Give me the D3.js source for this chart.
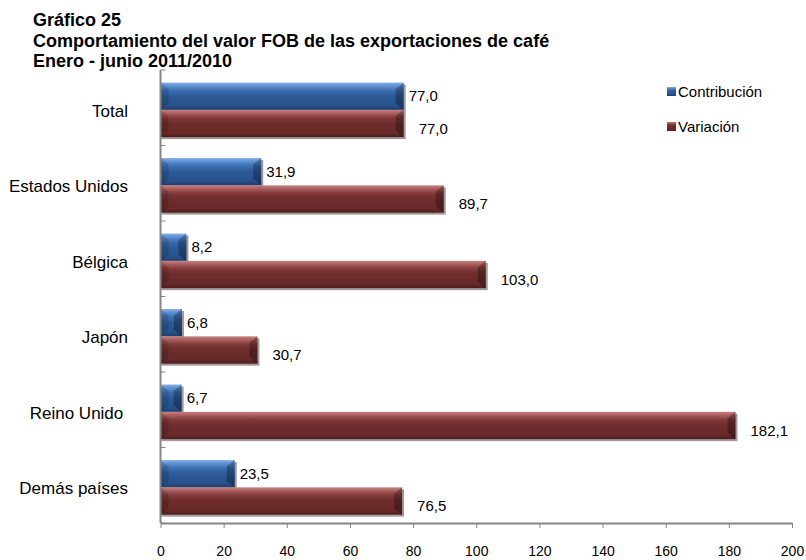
<!DOCTYPE html>
<html>
<head>
<meta charset="utf-8">
<script src="https://cdn.jsdelivr.net/npm/d3@7"></script>
<style>
  body { margin: 0; background: #fff; }
  text { font-family: Arial, "Liberation Sans", sans-serif; fill: #000; }
</style>
</head>
<body>
<svg id="chart" width="806" height="560"></svg>
<script>
const categories = ['Total', 'Estados Unidos', 'Bélgica', 'Japón', 'Reino Unido ', 'Demás países'];
const series = ['Contribución', 'Variación'];
const contribucion = [77.0, 31.9, 8.2, 6.8, 6.7, 23.5];
const variacion = [77.0, 89.7, 103.0, 30.7, 182.1, 76.5];
const xTicks = [0, 20, 40, 60, 80, 100, 120, 140, 160, 180, 200];
const titleLines = ['Gráfico 25', 'Comportamiento del valor FOB de las exportaciones de café', 'Enero - junio 2011/2010'];

const rows = categories.map((c, i) => ({ cat: c, values: [contribucion[i], variacion[i]] }));

const svg = d3.select('#chart');
const es = d3.formatLocale({ decimal: ',', thousands: '.', grouping: [3], currency: ['', ''] });
const fmt = es.format('.1f');

const x = d3.scaleLinear().domain([0, 200]).range([160.5, 792]);
const y0 = d3.scaleBand().domain(categories).range([70, 523]);
const y1 = d3.scaleBand().domain(series).range([0, y0.bandwidth()])
    .paddingInner(0).paddingOuter(0.383).align(0.6);

// gradients for the beveled bars
const defs = svg.append('defs');
const grads = {
  'Contribución': [['0', '#86b0e6'], ['0.12', '#5f92d4'], ['0.3', '#3b6db0'], ['0.5', '#2c5b98'], ['0.85', '#27518a'], ['1', '#1c3d6c']],
  'Variación': [['0', '#c78282'], ['0.12', '#ab5f5f'], ['0.3', '#813838'], ['0.5', '#6f2c2c'], ['0.85', '#682929'], ['1', '#4e1c1c']]
};
series.forEach((s, i) => {
  const g = defs.append('linearGradient').attr('id', 'grad' + i)
      .attr('x1', 0).attr('y1', 0).attr('x2', 0).attr('y2', 1);
  grads[s].forEach(st => g.append('stop').attr('offset', st[0]).attr('stop-color', st[1]));
});

// title
svg.append('g').selectAll('text').data(titleLines).join('text')
    .attr('x', 33)
    .attr('y', (d, i) => 26 + i * 20.5)
    .style('font-weight', 'bold')
    .style('font-size', '18px')
    .text(d => d);

// bars
const groups = svg.append('g').selectAll('g').data(rows).join('g')
    .attr('transform', d => `translate(0,${y0(d.cat)})`);

const bars = groups.selectAll('g.bar')
    .data(d => d.values.map((v, i) => ({ s: series[i], i: i, v: v })))
    .join('g').attr('class', 'bar');

bars.append('rect')
    .attr('x', x(0) + 1)
    .attr('y', d => y1(d.s) + 2)
    .attr('width', d => x(d.v) - x(0) + 1)
    .attr('height', y1.bandwidth())
    .attr('fill', '#8a8080')
    .attr('opacity', 0.8);

bars.append('rect')
    .attr('x', x(0))
    .attr('y', d => y1(d.s))
    .attr('width', d => x(d.v) - x(0))
    .attr('height', y1.bandwidth())
    .attr('fill', d => `url(#grad${d.i})`);

// bevelled ends
bars.append('path')
    .attr('fill', '#000').attr('opacity', 0.14)
    .attr('d', d => {
      const x0 = x(0), top = y1(d.s), h = y1.bandwidth();
      const b = Math.min(8, (x(d.v) - x0) / 2);
      return `M${x0},${top}L${x0 + b},${top + b * 0.8}L${x0 + b},${top + h - b * 0.8}L${x0},${top + h}Z`;
    });
bars.append('path')
    .attr('fill', '#000').attr('opacity', 0.28)
    .attr('d', d => {
      const x1 = x(d.v), top = y1(d.s), h = y1.bandwidth();
      const b = Math.min(8, (x1 - x(0)) / 2);
      return `M${x1},${top}L${x1 - b},${top + b * 0.8}L${x1 - b},${top + h - b * 0.8}L${x1},${top + h}Z`;
    });

// value labels
bars.append('text')
    .attr('x', d => x(d.v) + (d.i === 0 ? 5 : 15))
    .attr('y', d => y1(d.s) + y1.bandwidth() / 2 + (d.i === 0 ? 0 : 5))
    .attr('dy', '0.35em')
    .style('font-size', '15px')
    .text(d => fmt(d.v));

// axes
const axisColor = '#868686';
const yAxis = svg.append('g');
yAxis.append('line')
    .attr('x1', x(0)).attr('x2', x(0))
    .attr('y1', y0.range()[0]).attr('y2', y0.range()[1])
    .attr('stroke', axisColor).attr('stroke-width', 2);
yAxis.selectAll('line.tick')
    .data(categories.map(c => y0(c)).concat([y0.range()[1]]))
    .join('line').attr('class', 'tick')
    .attr('x1', x(0)).attr('x2', x(0) + 5)
    .attr('y1', d => d).attr('y2', d => d)
    .attr('stroke', axisColor).attr('stroke-width', 1);
yAxis.selectAll('text')
    .data(categories).join('text')
    .attr('x', 128)
    .attr('y', d => y0(d) + y0.bandwidth() / 2 + 3)
    .attr('dy', '0.35em')
    .attr('text-anchor', 'end')
    .style('white-space', 'pre')
    .style('font-size', '17px')
    .text(d => d);

const xAxis = svg.append('g')
    .attr('transform', `translate(0,${y0.range()[1]})`)
    .call(d3.axisBottom(x).tickValues(xTicks).tickSize(5).tickSizeOuter(0).tickPadding(18).tickFormat(d3.format('d')));
xAxis.select('.domain').attr('stroke', axisColor).attr('stroke-width', 2);
xAxis.selectAll('.tick line').attr('stroke', axisColor);
xAxis.selectAll('.tick text')
    .style('font-size', '14px')
    .style('font-family', 'Arial, "Liberation Sans", sans-serif')
    .attr('fill', '#000');

// legend
const legend = svg.append('g').selectAll('g').data(series).join('g')
    .attr('transform', (d, i) => `translate(667,${92 + i * 35})`);
legend.append('rect')
    .attr('x', 0).attr('y', -5)
    .attr('width', 9).attr('height', 9)
    .attr('fill', (d, i) => `url(#grad${i})`);
legend.append('text')
    .attr('x', 11).attr('y', 0)
    .attr('dy', '0.35em')
    .style('font-size', '15px')
    .text(d => d);
</script>
</body>
</html>
